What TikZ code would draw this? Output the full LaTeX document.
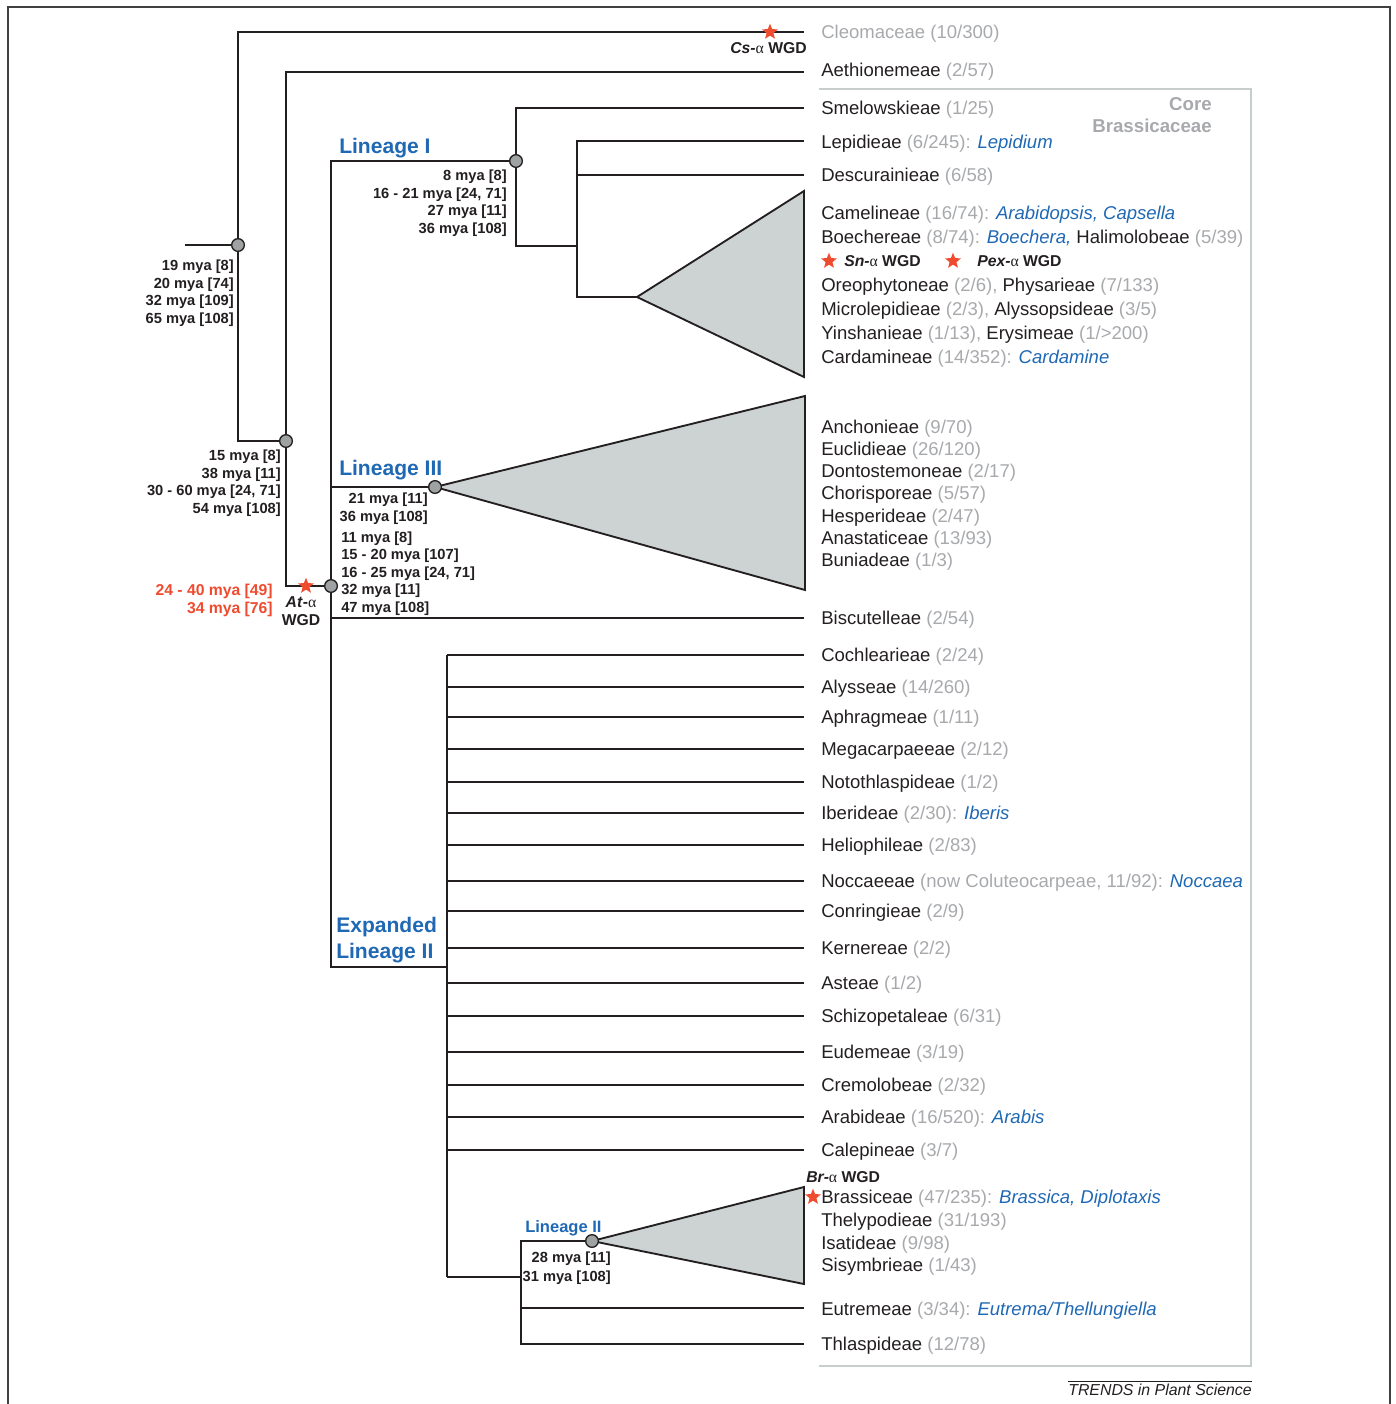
\documentclass[tikz,border=0pt]{standalone}
\usepackage{fontspec}
\setmainfont{Liberation Sans}
\newfontfamily\grk{Liberation Serif}
\usetikzlibrary{shapes.geometric}
\definecolor{ink}{HTML}{231F20}
\definecolor{cntgray}{HTML}{A7A9AC}
\definecolor{genblue}{HTML}{1F68B4}
\definecolor{wgdred}{HTML}{EF4B2F}
\definecolor{cladegray}{HTML}{CDD3D3}
\definecolor{nodegray}{HTML}{9EA2A2}
\definecolor{boxgray}{HTML}{C8CDCD}
\newcommand\tcount[1]{\textcolor{cntgray}{#1}}
\newcommand\tgenus[1]{\textcolor{genblue}{\itshape #1}}
\newcommand\alf{{\grk\mdseries\upshape α}}
\newcommand\wgdlab[1]{\textit{#1-}\alf\ WGD}
\begin{document}
\begin{tikzpicture}[x=0.75pt, y=-0.75pt,
  br/.style={line width=1.4pt, draw=ink},
  jn/.style={circle, draw=ink, fill=nodegray, line width=1pt, minimum size=9.5pt, inner sep=0pt},
  wstar/.style={star, star points=5, star point ratio=2.3, fill=wgdred, minimum size=12.5pt, inner sep=0pt},
  cl/.style={br, fill=cladegray},
  tribe/.style={anchor=west, inner sep=0pt, yshift=-1.6pt, text=ink, font=\fontsize{13.9}{17}\selectfont},
  mya/.style={inner sep=0pt, text=ink, font=\fontsize{11}{13.3}\selectfont\bfseries},
  wgd/.style={inner sep=0pt, text=ink, font=\fontsize{11.8}{14}\selectfont\bfseries},
  lin/.style={anchor=west, inner sep=0pt, yshift=-1.6pt, text=genblue, font=\fontsize{15.8}{19.5}\selectfont\bfseries}]

  \useasboundingbox (0,0) rectangle (1396,1404);
  \draw[line width=1.5pt, draw=black!75] (8,1404) |- (1390,7) -- (1390,1404);
  \draw[line width=1.5pt, draw=boxgray] (819,89) -| (1251,1366) -- (819,1366);

  \filldraw[cl] (637,297) -- (804,191) -- (804,377) -- cycle;
  \filldraw[cl] (435,487) -- (805,396) -- (805,590) -- cycle;
  \filldraw[cl] (592,1241) -- (804,1187) -- (804,1284) -- cycle;

  \node[jn] (root) at (238,245) {};
  \node[jn] (bras) at (286,441) {};
  \node[jn] (core) at (331,586) {};
  \node[jn] (lin1) at (516,161) {};
  \node[jn] (lin3) at (435,487) {};
  \node[jn] (lin2) at (592,1241) {};

  \coordinate (rootin) at (185,245);
  \coordinate (eCleo) at (804,32);
  \coordinate (eAeth) at (804,72);
  \coordinate (eSmel) at (804,108);
  \coordinate (lepj) at (577,246);
  \coordinate (eLepi) at (804,141);
  \coordinate (eDesc) at (804,175);
  \coordinate (apex1) at (637,297);
  \coordinate (eBisc) at (804,618);
  \coordinate (elII) at (447,967);
  \coordinate (eTop) at (447,655);
  \coordinate (eBot) at (447,1277);
  \coordinate (lin2j) at (521,1277);
  \coordinate (eEutr) at (804,1308);
  \coordinate (eThla) at (804,1344);

  \draw[br] (rootin) -- (root);
  \draw[br] (root) |- (eCleo);
  \draw[br] (root) |- (bras);
  \draw[br] (bras) |- (eAeth);
  \draw[br] (bras) |- (core);
  \draw[br] (core) |- (lin1);
  \draw[br] (core) |- (lin3);
  \draw[br] (core) |- (eBisc);
  \draw[br] (core) |- (elII);
  \draw[br] (lin1) |- (eSmel);
  \draw[br] (lin1) |- (lepj);
  \draw[br] (lepj) |- (eLepi);
  \draw[br] (lepj) |- (eDesc);
  \draw[br] (lepj) |- (apex1);
  \draw[br] (eTop) -- (eBot);
  \draw[br] (eBot) -- (lin2j);
  \draw[br] (lin2j) |- (lin2);
  \draw[br] (lin2j) |- (eEutr);
  \draw[br] (lin2j) |- (eThla);

  \foreach \y/\lab [count=\i] in {
    655/{Cochlearieae \tcount{(2/24)}},
    687/{Alysseae \tcount{(14/260)}},
    717/{Aphragmeae \tcount{(1/11)}},
    749/{Megacarpaeeae \tcount{(2/12)}},
    782/{Notothlaspideae \tcount{(1/2)}},
    813/{Iberideae \tcount{(2/30):} \tgenus{Iberis}},
    845/{Heliophileae \tcount{(2/83)}},
    881/{Noccaeeae \tcount{(now Coluteocarpeae, 11/92):} \tgenus{Noccaea}},
    911/{Conringieae \tcount{(2/9)}},
    948/{Kernereae \tcount{(2/2)}},
    983/{Asteae \tcount{(1/2)}},
    1016/{Schizopetaleae \tcount{(6/31)}},
    1052/{Eudemeae \tcount{(3/19)}},
    1085/{Cremolobeae \tcount{(2/32)}},
    1117/{Arabideae \tcount{(16/520):} \tgenus{Arabis}},
    1150/{Calepineae \tcount{(3/7)}}}
  {
    \coordinate (s\i) at (447,\y);
    \coordinate (e\i) at (804,\y);
    \draw[br] (s\i) -- (e\i);
    \node[tribe] (t\i) at (821,\y) {\lab};
  }

  \node[wstar] (cswgd) at (770,32) {};
  \node[wstar] (atwgd) at (306,586) {};
  \node[wstar] (snwgd) at (829,261) {};
  \node[wstar] (pexwgd) at (953,261) {};
  \node[wstar] (brwgd) at (813,1197) {};

  \node[wgd, anchor=east] (csl) at (807,48) {\wgdlab{Cs}};
  \node[wgd, anchor=west] (snl) at (844,261) {\wgdlab{Sn}};
  \node[wgd, anchor=west] (pexl) at (977,261) {\wgdlab{Pex}};
  \node[wgd, anchor=west] (brl) at (806,1177) {\wgdlab{Br}};
  \node[wgd, align=center, font=\fontsize{11.8}{13.5}\selectfont\bfseries] (atl) at (301,611) {\textit{At}-\alf\\WGD};

  \node[tribe, text=cntgray] (tCleo) at (821,32) {Cleomaceae (10/300)};
  \node[tribe] (tAeth) at (821,70) {Aethionemeae \tcount{(2/57)}};
  \node[tribe] (tSmel) at (821,108) {Smelowskieae \tcount{(1/25)}};
  \node[tribe] (tLepi) at (821,142) {Lepidieae \tcount{(6/245):} \tgenus{Lepidium}};
  \node[tribe] (tDesc) at (821,175) {Descurainieae \tcount{(6/58)}};
  \node[tribe] (tCame) at (821,213) {Camelineae \tcount{(16/74):} \tgenus{Arabidopsis, Capsella}};
  \node[tribe] (tBoec) at (821,237) {Boechereae \tcount{(8/74):} \tgenus{Boechera,} Halimolobeae \tcount{(5/39)}};
  \node[tribe] (tOreo) at (821,285) {Oreophytoneae \tcount{(2/6),} Physarieae \tcount{(7/133)}};
  \node[tribe] (tMicr) at (821,309) {Microlepidieae \tcount{(2/3),} Alyssopsideae \tcount{(3/5)}};
  \node[tribe] (tYins) at (821,333) {Yinshanieae \tcount{(1/13),} Erysimeae \tcount{(1/>200)}};
  \node[tribe] (tCard) at (821,357) {Cardamineae \tcount{(14/352):} \tgenus{Cardamine}};
  \node[tribe, align=left, font=\fontsize{13.9}{16.7}\selectfont] (tLin3) at (821,493)
    {Anchonieae \tcount{(9/70)}\\Euclidieae \tcount{(26/120)}\\Dontostemoneae \tcount{(2/17)}\\
     Chorisporeae \tcount{(5/57)}\\Hesperideae \tcount{(2/47)}\\Anastaticeae \tcount{(13/93)}\\
     Buniadeae \tcount{(1/3)}};
  \node[tribe] (tBisc) at (821,618) {Biscutelleae \tcount{(2/54)}};
  \node[tribe, align=left, font=\fontsize{13.9}{17}\selectfont] (tLin2) at (821,1231)
    {Brassiceae \tcount{(47/235):} \tgenus{Brassica, Diplotaxis}\\Thelypodieae \tcount{(31/193)}\\
     Isatideae \tcount{(9/98)}\\Sisymbrieae \tcount{(1/43)}};
  \node[tribe] (tEutr) at (821,1309) {Eutremeae \tcount{(3/34):} \tgenus{Eutrema/Thellungiella}};
  \node[tribe] (tThla) at (821,1344) {Thlaspideae \tcount{(12/78)}};

  \node[mya, anchor=north east, align=right] (dRoot) at (234,259.5)
    {19 mya [8]\\20 mya [74]\\32 mya [109]\\65 mya [108]};
  \node[mya, anchor=north east, align=right] (dBras) at (281,449.5)
    {15 mya [8]\\38 mya [11]\\30 - 60 mya [24, 71]\\54 mya [108]};
  \node[mya, anchor=north east, align=right, text=wgdred, font=\fontsize{11.8}{13.6}\selectfont\bfseries] (dAt) at (273,584)
    {24 - 40 mya [49]\\34 mya [76]};
  \node[mya, anchor=north east, align=right] (dLin1) at (507,169.5)
    {8 mya [8]\\16 - 21 mya [24, 71]\\27 mya [11]\\36 mya [108]};
  \node[mya, anchor=north east, align=right, font=\fontsize{11}{13.5}\selectfont\bfseries] (dLin3) at (428,492.5)
    {21 mya [11]\\36 mya [108]};
  \node[mya, anchor=north west, align=left, font=\fontsize{11}{13.1}\selectfont\bfseries] (dCore) at (341,531.5)
    {11 mya [8]\\15 - 20 mya [107]\\16 - 25 mya [24, 71]\\32 mya [11]\\47 mya [108]};
  \node[mya, anchor=north east, align=right, font=\fontsize{11}{14.2}\selectfont\bfseries] (dLin2) at (611,1251.5)
    {28 mya [11]\\31 mya [108]};

  \node[lin] (l1) at (339,146) {Lineage I};
  \node[lin] (l3) at (339,468) {Lineage III};
  \node[lin, align=left] (l2x) at (336,938) {Expanded\\Lineage II};
  \node[lin, font=\fontsize{12.4}{15}\selectfont\bfseries] (l2) at (525,1226) {Lineage II};

  \node[anchor=east, align=right, inner sep=0pt, text=cntgray, font=\fontsize{14}{16.5}\selectfont\bfseries] (corelab) at (1212,115)
    {Core\\Brassicaceae};

  \node[anchor=east, inner sep=0pt, text=ink, font=\fontsize{11.9}{14}\selectfont\itshape] (trends) at (1252,1390)
    {TRENDS in Plant Science};
  \draw[line width=0.8pt, ink] ([yshift=2pt]trends.north west) -- ([yshift=2pt]trends.north east);
\end{tikzpicture}
\end{document}
